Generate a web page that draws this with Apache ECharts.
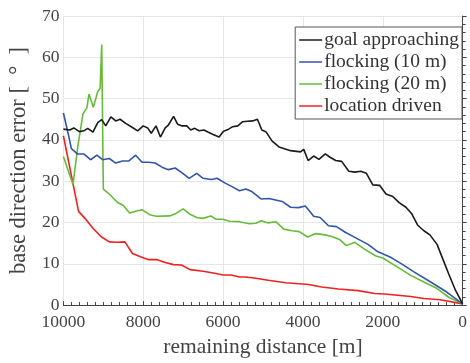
<!DOCTYPE html>
<html>
<head>
<meta charset="utf-8">
<script src="https://cdn.jsdelivr.net/npm/echarts@6/dist/echarts.min.js"></script>
<style>
  html, body { margin: 0; padding: 0; background: #fff; }
  #chart { width: 470px; height: 363px; }
</style>
</head>
<body>
<div id="chart"></div>
<script>
// remaining distance [m] and base direction error [deg] per strategy
var goalDist = [10000, 9840, 9740, 9600, 9490, 9390, 9260, 9140, 9040, 8940, 8810, 8690, 8580, 8440, 8270, 8140, 8000, 7890, 7800, 7680, 7570, 7450, 7370, 7240, 7140, 7040, 6910, 6810, 6710, 6600, 6480, 6380, 6250, 6100, 5990, 5860, 5760, 5630, 5510, 5390, 5260, 5140, 5030, 4930, 4770, 4600, 4310, 4060, 3980, 3870, 3730, 3600, 3440, 3320, 3180, 3030, 2850, 2700, 2550, 2410, 2250, 2080, 1920, 1750, 1590, 1420, 1280, 1130, 970, 820, 640, 510, 350, 180, 0];
var goalErr  = [42.6, 42.4, 42.9, 42.0, 42.2, 42.8, 41.9, 44.2, 44.9, 43.4, 45.6, 44.6, 45.0, 44.0, 43.0, 42.2, 43.4, 42.9, 41.6, 43.4, 40.7, 42.9, 43.6, 45.7, 43.8, 43.4, 43.4, 42.4, 42.8, 42.2, 42.4, 41.9, 41.3, 40.7, 42.1, 42.6, 43.2, 43.4, 44.4, 44.5, 44.6, 45.0, 42.4, 42.0, 39.7, 38.3, 37.4, 37.1, 37.7, 35.0, 36.1, 35.3, 36.6, 35.8, 35.0, 34.8, 32.4, 32.2, 32.4, 31.9, 29.1, 29.0, 26.9, 26.3, 24.8, 23.7, 22.2, 19.4, 18.0, 17.0, 14.7, 11.5, 7.6, 3.6, 0.3];

var flock10Dist = [10000, 9880, 9800, 9650, 9490, 9320, 9160, 9020, 8850, 8690, 8520, 8360, 8190, 8030, 7860, 7700, 7530, 7370, 7200, 7010, 6850, 6660, 6500, 6290, 6150, 5960, 5800, 5590, 5430, 5280, 5050, 4850, 4520, 4310, 4110, 3940, 3730, 3570, 3360, 3160, 2950, 2700, 2370, 2120, 1790, 1550, 1210, 800, 390, 0];
var flock10Err  = [46.5, 41.5, 37.9, 36.6, 36.6, 35.2, 36.3, 35.2, 35.5, 34.4, 34.9, 34.9, 36.3, 34.6, 34.6, 34.4, 33.4, 32.8, 33.2, 31.9, 30.7, 31.9, 30.7, 30.4, 30.7, 29.6, 28.8, 27.7, 28.1, 27.5, 25.7, 25.8, 25.1, 23.7, 23.6, 24.0, 21.5, 21.2, 19.2, 19.0, 17.7, 16.4, 14.7, 12.9, 11.5, 10.1, 8.0, 5.6, 3.1, 0.3];

var flock20Dist = [10000, 9760, 9640, 9510, 9410, 9360, 9250, 9140, 9080, 9040, 9000, 8850, 8650, 8500, 8340, 8190, 8030, 7840, 7670, 7340, 7180, 7000, 6830, 6660, 6500, 6310, 6170, 6000, 5840, 5590, 5340, 5180, 5040, 4870, 4680, 4480, 4270, 4090, 3880, 3690, 3440, 3240, 3070, 2910, 2700, 2450, 2170, 2000, 1630, 1300, 970, 640, 350, 0];
var flock20Err  = [36.0, 29.2, 38.3, 46.3, 47.8, 51.1, 47.9, 51.7, 52.5, 63.1, 28.1, 26.9, 24.9, 24.1, 22.3, 22.7, 23.1, 21.9, 21.5, 21.6, 22.2, 23.3, 22.0, 21.2, 21.0, 21.6, 20.8, 20.8, 20.3, 20.2, 19.7, 19.8, 20.4, 19.9, 20.2, 18.4, 18.0, 17.8, 16.5, 17.3, 17.0, 16.5, 15.8, 14.4, 15.2, 13.5, 11.9, 11.4, 9.2, 7.2, 5.6, 4.0, 1.9, 0.3];

var locDist = [10000, 9620, 9460, 9260, 9060, 8850, 8650, 8460, 8270, 8070, 7860, 7650, 7450, 7240, 7040, 6830, 6500, 6210, 6000, 5800, 5590, 5430, 5180, 4870, 4430, 3860, 3530, 3110, 2620, 2200, 1960, 1630, 1300, 970, 560, 0];
var locErr  = [41.0, 22.7, 21.0, 18.6, 16.6, 15.3, 15.2, 15.3, 12.5, 11.7, 11.0, 11.0, 10.3, 9.8, 9.7, 8.6, 8.2, 7.7, 7.3, 7.3, 6.8, 6.8, 6.5, 6.0, 5.4, 5.0, 4.4, 3.9, 3.5, 2.8, 2.7, 2.4, 2.1, 1.6, 1.3, 0.3];

var seriesNames = ['goal approaching', 'flocking (10 m)', 'flocking (20 m)', 'location driven'];
var seriesColors = ['#1a1a1a', '#3355a8', '#66bb3a', '#ee2222'];

var xTicks = { min: 0, max: 10000, step: 2000 };
var yTicks = { min: 0, max: 70, step: 10 };

function pairs(xs, ys) {
  return xs.map(function (x, i) { return [x, ys[i]]; });
}

var seriesData = [
  pairs(goalDist, goalErr),
  pairs(flock10Dist, flock10Err),
  pairs(flock20Dist, flock20Err),
  pairs(locDist, locErr)
];

var FONT = 'Liberation Serif';
var TEXT = '#444';
var AXIS = '#444';

var chart = echarts.init(document.getElementById('chart'), null, { renderer: 'canvas' });

chart.setOption({
  animation: false,
  backgroundColor: '#fff',
  grid: { left: 62, right: 4, top: 16, bottom: 51, containLabel: false },
  legend: {
    orient: 'vertical',
    right: 8,
    top: 27,
    data: seriesNames,
    icon: 'rect',
    itemWidth: 23,
    itemHeight: 1.5,
    itemGap: 0,
    padding: [2, 3, 2, 4],
    backgroundColor: '#fff',
    borderColor: '#555',
    borderWidth: 1,
    borderRadius: 0,
    textStyle: { fontFamily: FONT, fontSize: 19.5, lineHeight: 22, color: '#333', padding: [0, 0, 0, -3] }
  },
  xAxis: {
    type: 'value',
    inverse: true,
    min: xTicks.min,
    max: xTicks.max,
    interval: xTicks.step,
    name: 'remaining distance [m]',
    nameLocation: 'middle',
    nameGap: 29,
    nameTextStyle: { fontFamily: FONT, fontSize: 21.5, color: TEXT },
    axisLine: { show: true, lineStyle: { color: AXIS, width: 1 } },
    axisTick: { show: true, inside: true, length: 4, lineStyle: { color: AXIS } },
    minorTick: { show: true, splitNumber: 10, length: 3, lineStyle: { color: AXIS } },
    axisLabel: {
      fontFamily: FONT, fontSize: 17.5, color: TEXT, margin: 8,
      formatter: function (v) { return String(v); }
    },
    splitLine: { show: true, lineStyle: { color: '#e6e6e6', width: 1 } }
  },
  yAxis: {
    type: 'value',
    min: yTicks.min,
    max: yTicks.max,
    interval: yTicks.step,
    name: 'base direction error [  \u00b0  ]',
    nameLocation: 'middle',
    nameGap: 21,
    nameTextStyle: { fontFamily: FONT, fontSize: 22.5, color: TEXT },
    axisLine: { show: true, lineStyle: { color: AXIS, width: 1 } },
    axisTick: { show: true, inside: true, length: 4, lineStyle: { color: AXIS } },
    minorTick: { show: true, splitNumber: 5, length: 3, lineStyle: { color: AXIS } },
    axisLabel: { fontFamily: FONT, fontSize: 17.5, color: TEXT, margin: 4 },
    splitLine: { show: true, lineStyle: { color: '#e6e6e6', width: 1 } }
  },
  series: seriesNames.map(function (name, i) {
    return {
      name: name,
      type: 'line',
      data: seriesData[i],
      showSymbol: false,
      symbol: 'none',
      color: seriesColors[i],
      lineStyle: { width: 1.6, color: seriesColors[i] },
      z: 4 - i
    };
  })
});
</script>
</body>
</html>
